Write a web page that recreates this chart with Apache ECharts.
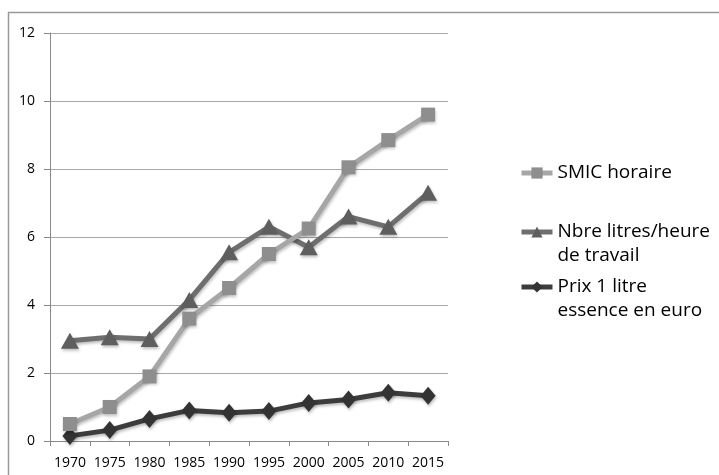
<!DOCTYPE html>
<html>
<head>
<meta charset="utf-8">
<script src="https://cdn.jsdelivr.net/npm/echarts@6/dist/echarts.min.js"></script>
<style>
html,body{margin:0;padding:0;background:#fff;}
#chart{width:719px;height:475px;}
</style>
</head>
<body>
<div id="chart"></div>
<script>
const years = ['1970','1975','1980','1985','1990','1995','2000','2005','2010','2015'];
const smic = [0.5, 1.0, 1.9, 3.6, 4.5, 5.5, 6.25, 8.05, 8.85, 9.6];
const litres = [2.95, 3.05, 3.0, 4.15, 5.55, 6.3, 5.7, 6.6, 6.3, 7.3];
const prix = [0.15, 0.32, 0.65, 0.9, 0.83, 0.88, 1.12, 1.22, 1.42, 1.33];
const seriesNames = ['SMIC horaire', 'Nbre litres/heure\nde travail', 'Prix 1 litre\nessence en euro'];
const yTicks = {min: 0, max: 12, interval: 2};

const FONT = '"Open Sans", "Noto Sans", sans-serif';
const chart = echarts.init(document.getElementById('chart'));

const colors = ['#a6a6a6', '#6e6e6e', '#3c3c3c'];
const markerColors = ['#8e8e8e', '#5e5e5e', '#333333'];
const symbols = ['rect', 'triangle', 'diamond'];
const symbolSizes = [14, [18, 16], [15, 18]];
const dataSets = [smic, litres, prix];
const legendTops = [161, 196, 251];

const legendStyle = (i) => ({
  data: [seriesNames[i]],
  orient: 'vertical',
  left: 519,
  top: legendTops[i],
  padding: 0,
  itemWidth: 31,
  itemHeight: 14,
  itemGap: 5,
  lineStyle: {width: 5},
  formatter: (n) => (n.indexOf('\n') >= 0 ? '\n' + n : n),
  textStyle: {fontFamily: FONT, fontSize: 19, color: '#000', lineHeight: 24}
});

chart.setOption({
  animation: false,
  backgroundColor: '#fff',
  graphic: [
    {type: 'line', shape: {x1: 8, y1: 12.5, x2: 719, y2: 12.5}, style: {stroke: '#9a9a9a', lineWidth: 1.5}},
    {type: 'line', shape: {x1: 8.5, y1: 12, x2: 8.5, y2: 475}, style: {stroke: '#9a9a9a', lineWidth: 1.5}}
  ],
  grid: {left: 50, right: 271, top: 33, bottom: 34, containLabel: false},
  legend: [legendStyle(0), legendStyle(1), legendStyle(2)],
  xAxis: {
    type: 'category',
    data: years,
    boundaryGap: true,
    axisLine: {lineStyle: {color: '#8a8a8a', width: 1}},
    axisTick: {show: true, length: 5, inside: false, lineStyle: {color: '#8a8a8a'}},
    axisLabel: {fontFamily: FONT, fontSize: 14, color: '#000', margin: 15, interval: 0},
    splitLine: {show: false}
  },
  yAxis: {
    type: 'value',
    min: yTicks.min, max: yTicks.max, interval: yTicks.interval,
    axisLine: {show: true, lineStyle: {color: '#8a8a8a', width: 1}},
    axisTick: {show: true, length: 6, lineStyle: {color: '#8a8a8a'}},
    axisLabel: {fontFamily: FONT, fontSize: 14, color: '#000', margin: 15},
    splitLine: {show: true, lineStyle: {color: '#a8a8a8', width: 1}}
  },
  series: dataSets.map((d, i) => ({
    name: seriesNames[i],
    type: 'line',
    data: d,
    symbol: symbols[i],
    symbolSize: symbolSizes[i],
    showAllSymbol: true,
    z: 3 - i + 2,
    lineStyle: {color: colors[i], width: 5, shadowColor: 'rgba(0,0,0,0.25)', shadowBlur: 3, shadowOffsetX: 1, shadowOffsetY: 2},
    itemStyle: {color: markerColors[i], borderWidth: 0, shadowColor: 'rgba(0,0,0,0.25)', shadowBlur: 3, shadowOffsetX: 1, shadowOffsetY: 2}
  }))
});
</script>
</body>
</html>
